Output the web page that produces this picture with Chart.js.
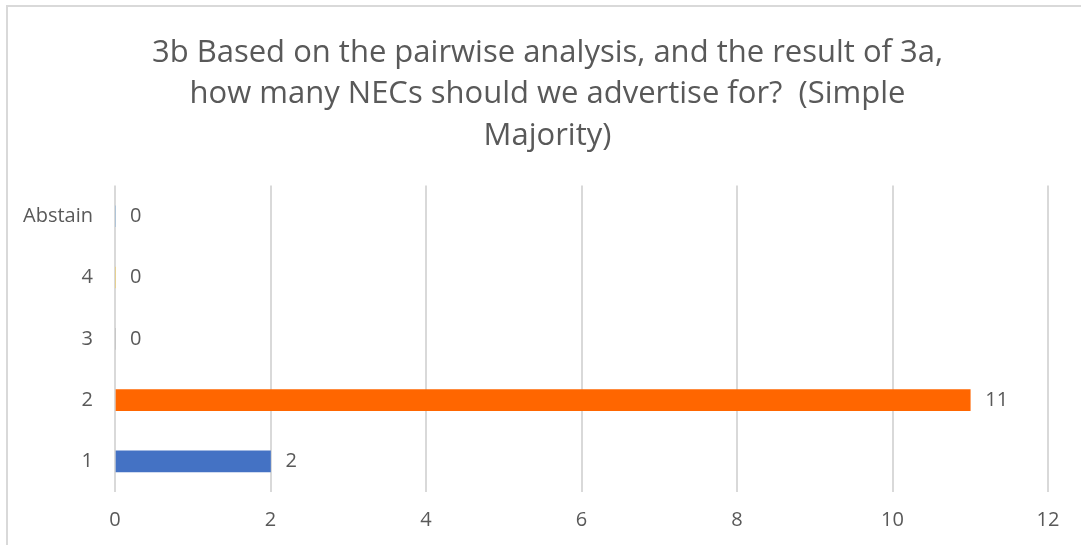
<!DOCTYPE html>
<html>
<head>
<meta charset="utf-8">
<script src="https://cdn.jsdelivr.net/npm/chart.js@4"></script>
<style>
  html, body { margin: 0; padding: 0; background: #fff; overflow: hidden; }
  #wrap { position: relative; width: 1081px; height: 545px; }
  #frame { position: absolute; left: 6px; top: 5px; width: 1090px; height: 560px; border: 2px solid #d9d9d9; box-sizing: border-box; }
  canvas { position: absolute; left: 0; top: 0; }
</style>
</head>
<body>
<div id="wrap">
  <div id="frame"></div>
  <canvas id="barChart" width="1081" height="545"></canvas>
</div>
<script>
var categories = ['1', '2', '3', '4', 'Abstain'];
var votes = [2, 11, 0, 0, 0];
var barColors = ['#4472C4', '#FF6600', '#A5A5A5', '#FFC000', '#5B9BD5'];
var titleLines = [
  '3b Based on the pairwise analysis, and the result of 3a,',
  'how many NECs should we advertise for?  (Simple',
  'Majority)'
];

var textColor = '#595959';
var fontFamily = "'Open Sans', 'Noto Sans', sans-serif";

// value labels at the end of each bar
const valueLabels = {
  id: 'valueLabels',
  afterDatasetsDraw(chart) {
    const ctx = chart.ctx;
    ctx.save();
    ctx.font = '20px ' + fontFamily;
    ctx.fillStyle = textColor;
    ctx.textAlign = 'left';
    ctx.textBaseline = 'middle';
    chart.getDatasetMeta(0).data.forEach(function(bar, i) {
      ctx.fillText(String(votes[i]), bar.x + 15, bar.y);
    });
    ctx.restore();
  }
};

// the title sits centred on the whole frame, not on the padded area
const titleShift = {
  id: 'titleShift',
  afterLayout(chart) {
    if (chart.titleBlock) chart.titleBlock.left += 47;
  }
};

const ctxBar = document.getElementById('barChart');
new Chart(ctxBar, {
  type: 'bar',
  data: {
    labels: categories,
    datasets: [{
      data: votes,
      backgroundColor: barColors,
      barThickness: 21
    }]
  },
  options: {
    indexAxis: 'y',
    responsive: false,
    animation: false,
    layout: { padding: { left: 0, right: 33, top: 0, bottom: 0 } },
    plugins: {
      legend: { display: false },
      tooltip: { enabled: false },
      title: {
        display: true,
        text: titleLines,
        color: textColor,
        font: { family: fontFamily, size: 31, weight: 'normal', lineHeight: 1.34 },
        padding: { top: 32, bottom: 29 }
      }
    },
    scales: {
      x: {
        min: 0,
        max: 12,
        ticks: { stepSize: 2, color: textColor, padding: 16, font: { family: fontFamily, size: 20 } },
        grid: { color: '#d9d9d9', lineWidth: 2, drawTicks: false },
        border: { display: false },
        afterFit: function(scale) { scale.height = 53; }
      },
      y: {
        reverse: true,
        ticks: { color: textColor, padding: 22, font: { family: fontFamily, size: 20 } },
        grid: { display: false, drawTicks: false },
        border: { display: false },
        afterFit: function(scale) { scale.width = 115; }
      }
    }
  },
  plugins: [titleShift, valueLabels]
});
</script>
</body>
</html>
